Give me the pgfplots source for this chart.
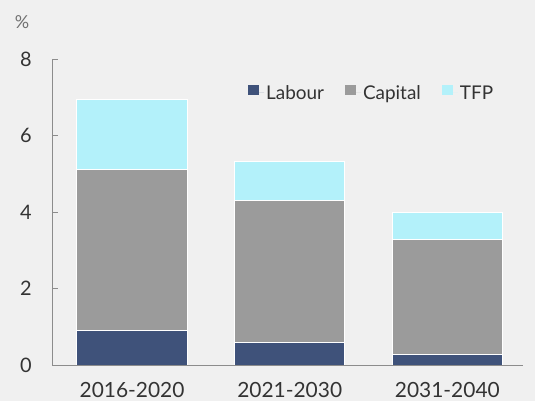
\documentclass[border=0pt]{standalone}
\usepackage{fontspec}
\setmainfont{Lato}
\usepackage{pgfplots}
\pgfplotsset{compat=1.18}
\definecolor{bg}{HTML}{F0F0F0}
\definecolor{lab}{HTML}{3F527A}
\definecolor{capc}{HTML}{9B9B9B}
\definecolor{tfp}{HTML}{B3F1FA}
\definecolor{txt}{HTML}{333333}
\definecolor{axc}{HTML}{8C8C8C}
\begin{document}
\begin{tikzpicture}
\fill[bg] (0,0) rectangle (535bp,401bp);
\node[text=txt!70, font=\fontsize{18}{20}\selectfont] at (22bp,379bp) {\%};
\begin{axis}[at={(52bp,36bp)}, anchor=south west, scale only axis,
  width=471bp, height=306bp,
  ybar stacked, bar width=0.70,
  ymin=0, ymax=8, xmin=-0.508, xmax=2.48,
  xtick={0,1,2}, xticklabels={2016-2020,2021-2030,2031-2040},
  ytick={0,2,4,6,8},
  /pgf/number format/assume math mode=true,
  axis lines=left, axis line style={axc,-,line width=1bp},
  tick align=inside, major tick length=6bp,
  major x tick style={draw=none},
  major y tick style={axc, line width=1bp},
  tick label style={text=txt, font=\fontsize{20}{22}\selectfont},
  yticklabel style={anchor=center, xshift=-26bp},
  xticklabel style={anchor=center, yshift=-25bp, font=\fontsize{21}{23}\selectfont},
  legend columns=3,
  legend style={draw=none, fill=none, at={(0.416,0.889)}, anchor=west,
    inner sep=0pt, font=\fontsize{19}{21}\selectfont, text=txt,
    /tikz/every even column/.append style={column sep=19bp}},
  legend image code/.code={\fill[#1,draw=none] (0bp,-2bp) rectangle (11bp,8bp); \path[draw=none] (0bp,0bp) -- (16bp,0bp);},
  every axis plot/.append style={draw=white, line width=1bp},
]
\addplot[fill=lab] coordinates {(0,0.89) (1,0.58) (2,0.28)};
\addplot[fill=capc] coordinates {(0,4.23) (1,3.71) (2,3.01)};
\addplot[fill=tfp] coordinates {(0,1.83) (1,1.04) (2,0.71)};
\legend{Labour,Capital,TFP}
\end{axis}
\end{tikzpicture}
\end{document}
